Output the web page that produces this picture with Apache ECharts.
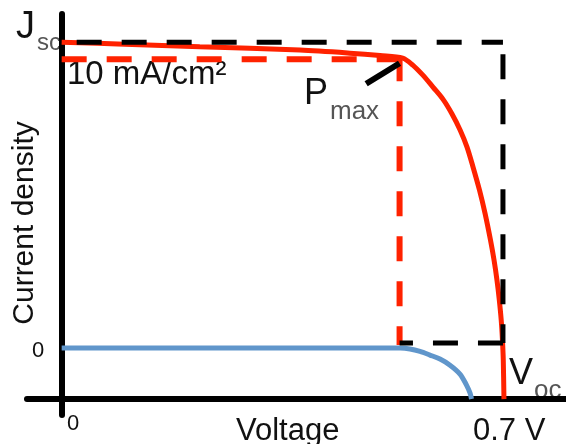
<!DOCTYPE html>
<html>
<head>
<meta charset="utf-8">
<script src="https://cdn.jsdelivr.net/npm/echarts@6/dist/echarts.min.js"></script>
<style>
  html, body { margin: 0; padding: 0; background: #fff; }
  #main { width: 566px; height: 444px; }
</style>
</head>
<body>
<div id="main"></div>
<script>
// illuminated J-V curve (voltage in V, current density relative to dark level)
var VOLT_LIGHT = [0, 0.10, 0.219, 0.378, 0.457, 0.505, 0.541, 0.557, 0.573, 0.589, 0.605, 0.619, 0.632, 0.643, 0.6525, 0.6628, 0.6715, 0.6802, 0.6858, 0.6905, 0.6942, 0.6972, 0.6992, 0.7005, 0.7016];
var J_LIGHT = [10.0, 9.93, 9.85, 9.74, 9.64, 9.56, 9.48, 9.25, 8.92, 8.53, 8.13, 7.66, 7.13, 6.57, 5.92, 5.16, 4.41, 3.53, 2.88, 2.22, 1.57, 0.92, 0.26, -0.39, -1.67];
// dark curve
var VOLT_DARK = [0, 0.537, 0.5525, 0.5684, 0.5842, 0.6001, 0.616, 0.6318, 0.6414, 0.6477, 0.6501];
var J_DARK = [0, 0, -0.03, -0.11, -0.23, -0.36, -0.56, -0.85, -1.18, -1.47, -1.67];
// key points
var JSC = 10, VOC = 0.7;
var VMP = 0.536, JMP = 9.44;
var BOX_BOTTOM = 0.16, MP_BOTTOM = 0.1;
// labels
var Y_TICK = '0', X_TICK = '0', X_END = '0.7 V';
var X_NAME = 'Voltage', Y_NAME = 'Current density';

var font = 'Liberation Sans, Arial, sans-serif';
function zip (a, b) {
    return a.map(function (v, i) { return [v, b[i]]; });
}
function txt (x, y, text, size, color) {
    return {
        type: 'text',
        style: { x: x, y: y, text: text, font: size + 'px ' + font, fill: color || '#111', align: 'left', verticalAlign: 'middle' }
    };
}
function dashed (data, color, width, offset) {
    return {
        type: 'line', data: data, showSymbol: false,
        lineStyle: { color: color, width: width, type: [25, 20], dashOffset: offset, cap: 'butt' }
    };
}

var chart = echarts.init(document.getElementById('main'));
chart.setOption({
    animation: false,
    grid: { left: 27, right: 0, top: 14, bottom: 29 },
    xAxis: {
        type: 'value', min: -0.055, max: 0.8, offset: -16,
        axisLine: { onZero: false, lineStyle: { color: '#000', width: 6 } },
        axisTick: { show: false }, axisLabel: { show: false }, splitLine: { show: false }
    },
    yAxis: {
        type: 'value', min: -2.19, max: 10.92,
        axisLine: { show: true, onZero: true, lineStyle: { color: '#000', width: 6 } },
        axisTick: { show: false }, axisLabel: { show: false }, splitLine: { show: false }
    },
    series: [
        {
            type: 'line', data: zip(VOLT_DARK, J_DARK), showSymbol: false,
            smooth: 0.3,
            lineStyle: { color: '#6096cb', width: 5 }
        },
        {
            type: 'line', data: zip(VOLT_LIGHT, J_LIGHT), showSymbol: false,
            smooth: 0.3,
            lineStyle: { color: '#ff2200', width: 5 }
        },
        dashed([[0, JMP], [VMP, JMP]], '#ff2200', 6, 0),
        dashed([[VMP, JMP], [VMP, MP_BOTTOM]], '#ff2200', 6, 3),
        dashed([[0, JSC], [VOC, JSC]], '#000', 5, 30),
        dashed([[VOC, JSC], [VOC, BOX_BOTTOM]], '#000', 5, 33),
        dashed([[VOC, BOX_BOTTOM], [VMP, BOX_BOTTOM]], '#000', 5, 0),
        {
            // arrow pointing at Pmax
            type: 'line', data: [[VMP - 0.053, JMP - 0.8], [VMP, JMP - 0.13]], showSymbol: false,
            lineStyle: { color: '#000', width: 6 }
        }
    ],
    graphic: [
        txt(16, 28, 'J', 38),
        txt(37, 43, 'sc', 24, '#555'),
        txt(67, 75, '10 mA/cm\u00b2', 33),
        txt(304, 94, 'P', 36),
        txt(330, 112, 'max', 26, '#555'),
        txt(509, 374, 'V', 36),
        txt(534, 391, 'oc', 26, '#555'),
        txt(32, 351, Y_TICK, 22),
        txt(67, 424, X_TICK, 22),
        txt(236, 431, X_NAME, 31),
        txt(473, 431, X_END, 31),
        {
            type: 'text', x: 24.5, y: 223, rotation: Math.PI / 2,
            style: { text: Y_NAME, font: '30px ' + font, fill: '#111', align: 'center', verticalAlign: 'middle' }
        }
    ]
});
</script>
</body>
</html>
